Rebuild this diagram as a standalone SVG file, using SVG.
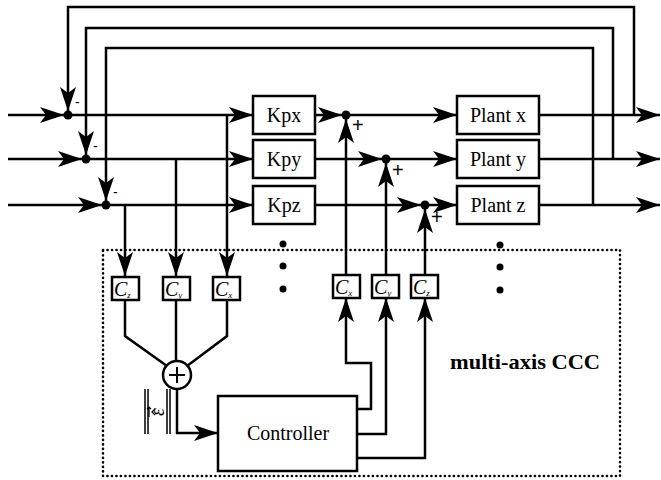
<svg xmlns="http://www.w3.org/2000/svg" width="661" height="480" viewBox="0 0 661 480">
<style>
.ln{fill:none;stroke:#000;stroke-width:2.5}
.bx{fill:#fff;stroke:#000;stroke-width:2.5}
.cb{fill:#fff;stroke:#000;stroke-width:2.5}
.t{font-family:"Liberation Serif","Times New Roman",serif;font-size:20px;fill:#000;text-anchor:middle}
.c{font-family:"Liberation Serif","Times New Roman",serif;font-style:italic;font-size:20px;fill:#000}
.s{font-size:9px}
.sg{font-family:"Liberation Sans",Arial,sans-serif;fill:#000}
.dot{fill:#000}
</style>
<defs>
<marker id="ar" markerUnits="userSpaceOnUse" markerWidth="25" markerHeight="18" refX="24" refY="9" orient="auto">
<path d="M0,1 L24,9 L0,17 L6,9 Z" fill="#000"/>
</marker>
</defs>
<rect width="661" height="480" fill="#fff"/>

<g id="connectors">
<path class="ln" d="M8,115 H64" marker-end="url(#ar)"/>
<path class="ln" d="M8,159 H82" marker-end="url(#ar)"/>
<path class="ln" d="M8,205 H102" marker-end="url(#ar)"/>
<path class="ln" d="M634,115 V7 H68 V111" marker-end="url(#ar)"/>
<path class="ln" d="M613,159 V28 H86 V155" marker-end="url(#ar)"/>
<path class="ln" d="M593,205 V48 H106 V201" marker-end="url(#ar)"/>
<path class="ln" d="M68,115 H253" marker-end="url(#ar)"/>
<path class="ln" d="M86,159 H253" marker-end="url(#ar)"/>
<path class="ln" d="M106,205 H253" marker-end="url(#ar)"/>
<path class="ln" d="M315,115 H342" marker-end="url(#ar)"/>
<path class="ln" d="M315,159 H382" marker-end="url(#ar)"/>
<path class="ln" d="M315,205 H421" marker-end="url(#ar)"/>
<path class="ln" d="M346,115 H457" marker-end="url(#ar)"/>
<path class="ln" d="M386,159 H457" marker-end="url(#ar)"/>
<path class="ln" d="M425,205 H457" marker-end="url(#ar)"/>
<path class="ln" d="M539,115 H660" marker-end="url(#ar)"/>
<path class="ln" d="M539,159 H660" marker-end="url(#ar)"/>
<path class="ln" d="M539,205 H660" marker-end="url(#ar)"/>
<path class="ln" d="M227,115 V276" marker-end="url(#ar)"/>
<path class="ln" d="M176,159 V276" marker-end="url(#ar)"/>
<path class="ln" d="M125,205 V276" marker-end="url(#ar)"/>
<path class="ln" d="M125,300 V336 L167,366"/>
<path class="ln" d="M176,300 V361"/>
<path class="ln" d="M227,300 V336 L187,366"/>
<path class="ln" d="M177,389 V433 H218" marker-end="url(#ar)"/>
<path class="ln" d="M357,409 H371 V363 H346 V298" marker-end="url(#ar)"/>
<path class="ln" d="M357,434 H386 V298" marker-end="url(#ar)"/>
<path class="ln" d="M357,458 H425 V298" marker-end="url(#ar)"/>
<path class="ln" d="M346,275 V119" marker-end="url(#ar)"/>
<path class="ln" d="M386,275 V163" marker-end="url(#ar)"/>
<path class="ln" d="M425,275 V209" marker-end="url(#ar)"/>
</g>

<g id="junctions">
<circle class="dot" cx="68" cy="115" r="4.5"/>
<circle class="dot" cx="86" cy="159" r="4.5"/>
<circle class="dot" cx="106" cy="205" r="4.5"/>
<circle class="dot" cx="346" cy="115" r="4.5"/>
<circle class="dot" cx="386" cy="159" r="4.5"/>
<circle class="dot" cx="425" cy="205" r="4.5"/>
<text class="sg" x="75" y="107" font-size="14">-</text>
<text class="sg" x="93" y="151" font-size="14">-</text>
<text class="sg" x="113" y="197" font-size="14">-</text>
<text class="sg" x="352" y="132" font-size="20">+</text>
<text class="sg" x="392" y="177" font-size="20">+</text>
<text class="sg" x="431" y="224" font-size="20">+</text>
</g>

<g id="frame">
<rect x="103" y="250" width="517" height="226" fill="none" stroke="#000" stroke-width="2.6" stroke-dasharray="0.1 4.4" stroke-linecap="round"/>
</g>

<g id="Kpx"><rect class="bx" x="253" y="96" width="62" height="38"/><text class="t" x="284" y="122">Kpx</text></g>
<g id="Kpy"><rect class="bx" x="253" y="140" width="62" height="38"/><text class="t" x="284" y="166">Kpy</text></g>
<g id="Kpz"><rect class="bx" x="253" y="186" width="62" height="38"/><text class="t" x="284" y="212">Kpz</text></g>

<g id="PlantX"><rect class="bx" x="457" y="96" width="82" height="38"/><text class="t" x="498" y="122">Plant x</text></g>
<g id="PlantY"><rect class="bx" x="457" y="140" width="82" height="38"/><text class="t" x="498" y="166">Plant y</text></g>
<g id="PlantZ"><rect class="bx" x="457" y="186" width="82" height="38"/><text class="t" x="498" y="212">Plant z</text></g>

<g id="Cz1"><rect class="cb" x="112" y="277" width="27" height="23"/><text class="c" x="114" y="296">C<tspan class="s" dy="2">z</tspan></text></g>
<g id="Cy1"><rect class="cb" x="163" y="277" width="27" height="23"/><text class="c" x="165" y="296">C<tspan class="s" dy="2">y</tspan></text></g>
<g id="Cx1"><rect class="cb" x="213" y="277" width="27" height="23"/><text class="c" x="215" y="296">C<tspan class="s" dy="2">x</tspan></text></g>

<g id="Cx2"><rect class="cb" x="333" y="275" width="27" height="23"/><text class="c" x="335" y="294">C<tspan class="s" dy="2">x</tspan></text></g>
<g id="Cy2"><rect class="cb" x="372" y="275" width="27" height="23"/><text class="c" x="374" y="294">C<tspan class="s" dy="2">y</tspan></text></g>
<g id="Cz2"><rect class="cb" x="411" y="275" width="27" height="23"/><text class="c" x="413" y="294">C<tspan class="s" dy="2">z</tspan></text></g>

<g id="summer">
<circle cx="177" cy="375" r="14" fill="#fff" stroke="#000" stroke-width="2.5"/>
<path d="M169,375 H185 M177,367 V383" stroke="#000" stroke-width="2" fill="none"/>
</g>

<g id="norm">
<path d="M145,389 V434 M148,389 V434 M167,389 V434 M170,389 V434" stroke="#000" stroke-width="1.5" fill="none"/>
<g transform="translate(157,412) rotate(-90)">
<text x="0" y="7" font-family="Liberation Serif,serif" font-style="italic" font-size="20" text-anchor="middle">ε</text>
<path d="M-3,-2 L0,-5 L3,-2" stroke="#000" stroke-width="1.2" fill="none"/>
<path d="M-5,-8 H5 M3,-10 L5,-8 L3,-6" stroke="#000" stroke-width="1.2" fill="none"/>
</g>
</g>

<g id="Controller"><rect class="bx" x="218" y="396" width="139" height="75"/><text x="288" y="440" font-family="Liberation Serif,serif" font-size="20" text-anchor="middle">Controller</text></g>

<g id="ellipsis">
<circle class="dot" cx="283" cy="244" r="3.5"/>
<circle class="dot" cx="283" cy="266" r="3.5"/>
<circle class="dot" cx="283" cy="289" r="3.5"/>
<circle class="dot" cx="500" cy="245" r="3.5"/>
<circle class="dot" cx="500" cy="267" r="3.5"/>
<circle class="dot" cx="500" cy="290" r="3.5"/>
</g>

<g id="label">
<text x="450" y="369" font-family="Liberation Serif,serif" font-weight="bold" font-size="22" textLength="150" lengthAdjust="spacingAndGlyphs">multi-axis CCC</text>
</g>
</svg>
